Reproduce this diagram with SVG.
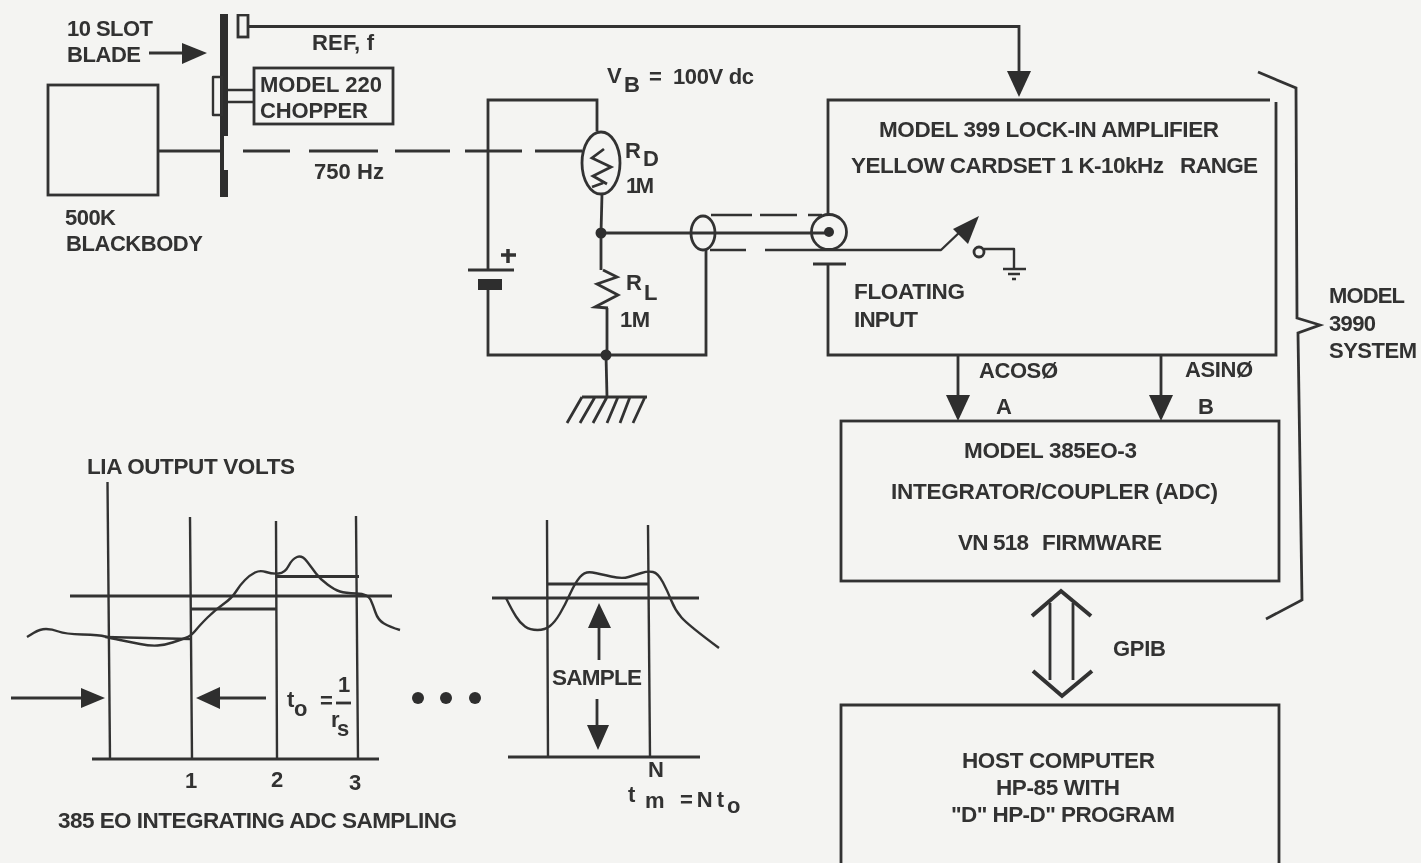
<svg xmlns="http://www.w3.org/2000/svg" width="1421" height="863" viewBox="0 0 1421 863">
<style>
.l{fill:none;stroke:#333;stroke-width:2.8;stroke-linejoin:miter}
.t{stroke-width:2.4;stroke-linejoin:round}
.b{fill:none;stroke:#333;stroke-width:4}
.f{fill:#2e2e2e;stroke:none}
text{font-family:"Liberation Sans",Arial,sans-serif;font-weight:bold;font-size:22.5px;fill:#303030;stroke:none}
.s{font-size:22px}
.m{text-anchor:middle}
</style>
<defs>
<filter id="soft" x="0" y="0" width="100%" height="100%"><feGaussianBlur stdDeviation="0.55"/></filter>
<path id="ad" d="M-12-26H12L0 0Z"/>
</defs>
<rect width="1421" height="863" fill="#f4f4f2"/>
<g filter="url(#soft)">
<g id="connectors">
<path class="l" d="M248 26.500H1019V72"/>
<use href="#ad" x="1019" y="97" class="f"/>
<path class="l" d="M159 151H222M243 151H290M309 151H378M395 151H450M465 151H522M535 151H582"/>
<path class="l" d="M149 53H185"/><path class="f" d="M182 43L207 53L182 64Z"/>
<path class="l t" d="M225 90H254M225 102H254"/>
<path class="l" d="M597 131V100H488V270M488 290V355H706V250"/>
<path class="l" d="M602 194L601 233V270M607 308V355M606 355L607 397"/>
<path class="l" d="M601 233H825"/>
<path class="l t" d="M711 215H752M760 215H797M808 215H822M710 250H746M765 250H941L962 230"/>
<path class="f" d="M979 216L953 229L968 244Z"/>
<path class="l t" d="M984 249H1014V268"/>
<path class="l" d="M958 355V397M1161 355V397"/>
<use href="#ad" x="958" y="421" class="f"/><use href="#ad" x="1161" y="421" class="f"/>
<path class="l" d="M1050 603V680M1073 603V680"/>
<path class="b" d="M1032 616L1061 591L1091 616M1033 671L1062 696L1092 671"/>
<path class="l" d="M1258 72L1296 88L1297 318L1320 325L1298 333L1302 600L1266 619"/>
</g>
<g id="blackbody"><rect class="l" x="48" y="85" width="110" height="110"/>
<text x="65" y="225" textLength="51" class="s">500K</text><text x="66" y="251" textLength="137" class="s">BLACKBODY</text></g>
<g id="blade">
<path class="f" d="M220 14H228V136H224V170H228V197H220Z"/>
<rect class="l t" x="213" y="77" width="9" height="38"/>
<text x="67" y="36" textLength="86" class="s">10 SLOT</text><text x="67" y="62" textLength="74" class="s">BLADE</text>
</g>
<g id="ref"><rect class="l" x="238" y="15" width="10" height="22"/><text x="312" y="50" textLength="62" class="s">REF, f</text></g>
<g id="chopper"><rect class="l" x="254" y="68" width="139" height="56"/>
<text x="260" y="92" textLength="122" class="s">MODEL 220</text><text x="260" y="118" textLength="108" class="s">CHOPPER</text></g>
<text x="314" y="179" textLength="70" class="s">750 Hz</text>
<g id="battery">
<path class="l" d="M468 270H514"/><path class="l" style="stroke-width:3.500" d="M508 249V263M501 255H516"/><rect class="f" x="478" y="279" width="24" height="11"/>
<text x="607" y="83" class="s">V</text><text x="624" y="92" class="s">B</text><text x="649" y="84" class="s">=</text><text x="673" y="84" textLength="81" class="s">100V dc</text>
</g>
<g id="rd"><ellipse class="l" cx="601" cy="163" rx="19" ry="31"/>
<path class="l" d="M604 149L592 158L611 167L593 176L607 184M592 187L603 183"/>
<text x="625" y="158" class="s">R</text><text x="643" y="166" class="s">D</text><text x="626" y="193" textLength="28" class="s">1M</text></g>
<g id="rl"><path class="l" d="M603 270L617 277L597 284L618 295L595 307L608 308"/>
<text x="626" y="290" class="s">R</text><text x="644" y="300" class="s">L</text><text x="620" y="327" textLength="30" class="s">1M</text>
<circle class="f" cx="601" cy="233" r="5.500"/><circle class="f" cx="606" cy="355" r="5.500"/></g>
<g id="ground"><path class="l" d="M582 397H647M582 397L567 423M595 397L580 423M607 397L593 423M618 397L607 423M630 397L620 423M645 397L633 423"/></g>
<g id="coax"><ellipse class="l" cx="703" cy="233" rx="12" ry="17"/>
<circle class="l" cx="829" cy="232" r="17.500"/><circle class="f" cx="829" cy="232" r="5"/>
<path class="l" d="M813 264H846"/></g>
<g id="lockin">
<path class="l" d="M828 215V100H1270M1276 102V355H828V264"/>
<circle class="l" cx="979" cy="252" r="5"/>
<path class="l t" d="M1003 269H1026M1008 274H1020M1012 279H1016"/>
<text x="879" y="137" textLength="340">MODEL 399 LOCK-IN AMPLIFIER</text>
<text x="851" y="173" textLength="313">YELLOW CARDSET 1 K-10kHz</text><text x="1180" y="173" textLength="78">RANGE</text>
<text x="854" y="299" textLength="111">FLOATING</text><text x="854" y="327" textLength="64">INPUT</text>
</g>
<text x="979" y="378" textLength="79" class="s">ACOSØ</text><text x="1185" y="377" textLength="68" class="s">ASINØ</text>
<text x="996" y="414" class="s">A</text><text x="1198" y="414" class="s">B</text>
<g id="integrator"><rect class="l" x="841" y="421" width="438" height="160"/>
<text x="964" y="458" textLength="173">MODEL 385EO-3</text>
<text x="891" y="499" textLength="327">INTEGRATOR/COUPLER (ADC)</text>
<text x="958" y="550" textLength="71">VN 518</text><text x="1042" y="550" textLength="120">FIRMWARE</text></g>
<text x="1113" y="656" textLength="53" class="s">GPIB</text>
<g id="host"><path class="l" d="M841 880V705H1279V880"/>
<text x="962" y="768" textLength="193">HOST COMPUTER</text>
<text x="996" y="795" textLength="124">HP-85 WITH</text>
<text x="951" y="822" textLength="224">"D" HP-D" PROGRAM</text></g>
<g id="system-label"><text x="1329" y="303" textLength="76" class="s">MODEL</text><text x="1329" y="331" textLength="47" class="s">3990</text><text x="1329" y="358" textLength="88" class="s">SYSTEM</text></g>
<g id="sampling-left">
<text x="87" y="474" textLength="208">LIA OUTPUT VOLTS</text>
<path class="l t" d="M107.500 482L110 759M190 517L192 759M276 521L277 759M356 516L358 759"/>
<path class="l" d="M92 759H379M70 596H392M191 609H277M277 576.500H359"/>
<path class="l t" d="M27 637L33.500 633Q40 629 46 629Q52 629 58.500 631.500Q65 634 82.500 634.500Q100 635 105 636.500Q110 638 120 640Q130 642 140 644Q150 646 157.500 645.500Q165 645 172.500 642.500Q180 640 185.500 638Q191 636 195.500 630.500Q200 625 207.500 617.500Q215 610 223.500 604Q232 598 236 591.500Q240 585 245 580Q250 575 255 572.500Q260 570 266 572Q272 574 278.500 573.500Q285 573 288.500 566Q292 559 297 557Q302 555 307 561.500Q312 568 316 573.500Q320 579 327.500 584.500Q335 590 340 591.500Q345 593 356.500 593.500Q368 594 370.500 599.500Q373 605 375.500 612.500Q378 620 384 623.500Q390 627 400 630"/>
<path class="l t" d="M105 637L190 639"/>
<path class="l" d="M11 698H85M220 698H266"/>
<path class="f" d="M81 688L105 698L81 708ZM220 687L196 698L220 709Z"/>
<text x="287" y="707" class="s">t</text><text x="294" y="716" class="s">o</text><text x="320" y="708" class="s">=</text>
<text x="338" y="692" class="s">1</text><path class="l" d="M336 703H351"/>
<text x="331" y="727" class="s">r</text><text x="337" y="736" class="s">s</text>
<text x="191" y="788" class="s m">1</text><text x="277" y="787" class="s m">2</text><text x="355" y="790" class="s m">3</text>
<text x="58" y="828" textLength="399">385 EO INTEGRATING ADC SAMPLING</text>
</g>
<g id="dots"><circle class="f" cx="418" cy="698" r="6"/><circle class="f" cx="446" cy="698" r="6"/><circle class="f" cx="475" cy="698" r="6"/></g>
<g id="sampling-right">
<path class="l t" d="M547 520L548 757M648 525L650 757"/>
<path class="l" d="M492 598H699M508 757H700M547 584H649"/>
<path class="l t" d="M506 598L509 604Q512 610 516 616.500Q520 623 525 626.500Q530 630 537.500 630Q545 630 550 626Q555 622 560 613.500Q565 605 570 594Q575 583 580 577Q585 571 592.500 572.500Q600 574 611 576.500Q622 579 628.500 577Q635 575 641.500 573Q648 571 653 572Q658 573 663 582.500Q668 592 671.500 601Q675 610 681.500 617.500Q688 625 719 648"/>
<path class="l" d="M599 625V660M597 699V728"/>
<path class="f" d="M599 603L611 628H588ZM598 750L587 725H609Z"/>
<text x="552" y="685" textLength="90">SAMPLE</text>
<text x="656" y="777" class="s m">N</text>
<text x="628" y="802" class="s">t</text><text x="645" y="808" class="s">m</text>
<text x="680" y="807" textLength="44" class="s">= N t</text><text x="727" y="813" class="s">o</text>
</g>
</g>
</svg>
